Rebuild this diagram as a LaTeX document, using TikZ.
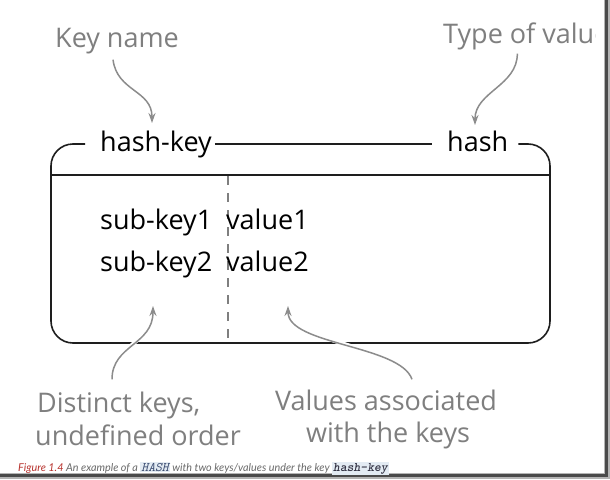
\documentclass[tikz,border=0pt]{standalone}
\usepackage{fontspec}
\setmainfont{Open Sans}
\newfontfamily\capfont{Lato}
\usetikzlibrary{arrows.meta}
\definecolor{labgray}{HTML}{7F7F7F}
\definecolor{arrgray}{HTML}{8C8C8C}
\definecolor{boxblack}{HTML}{1E1E1E}
\definecolor{capred}{HTML}{B8332E}
\definecolor{captext}{HTML}{6A6A6A}
\definecolor{codebg}{HTML}{E3EBF3}
\definecolor{codeblue}{HTML}{3A4B70}
\definecolor{codedark}{HTML}{333344}
\definecolor{framedark}{HTML}{4A4A4A}
\definecolor{framelight}{HTML}{B4B4B4}
\newcommand{\codebox}[3]{{\setlength{\fboxsep}{1pt}\colorbox{codebg}{\ttfamily#2\fontsize{13}{13}\selectfont\color{#1}#3}}}
\tikzset{
  boxtext/.style={font=\fontsize{27}{27}\selectfont, text=black, inner sep=0pt},
  labtext/.style={font=\fontsize{27}{33}\selectfont, text=labgray, inner sep=0pt},
  boxline/.style={draw=boxblack, line width=1.6pt},
  divline/.style={draw=boxblack, line width=1.3pt},
  dashline/.style={draw=labgray, line width=1.2pt, dash pattern=on 9pt off 8pt},
  garrow/.style={draw=arrgray, line width=1.5pt, -{Stealth[length=10pt,width=7pt]},
    preaction={draw=white, line width=4pt, -}},
}
\begin{document}
\begin{tikzpicture}[x=1pt,y=-1pt]
\useasboundingbox (0,0) rectangle (610,479);
\fill[white] (0,0) rectangle (610,479);
% frame of screenshot
\fill[framelight] (604,0) rectangle (610,479);
\fill[framelight] (0,473) rectangle (610,479);
\fill[framedark] (604.5,0) rectangle (607.5,477);
\fill[framedark] (0,474) rectangle (607.5,477);

% top labels of the box
\node[boxtext, anchor=base west] (hk) at (100,151) {hash-key};
\node[boxtext, anchor=base west] (h) at (447,151) {hash};
\coordinate (topy) at (0,144);

% box outline
\draw[boxline, rounded corners=22pt]
  ([xshift=-15pt]hk.west |- topy) -- (51,144) -- (51,343) -- (550,343) -- (550,144)
  -- ([xshift=10pt]h.east |- topy);
\draw[boxline] ([xshift=3pt]hk.east |- topy) -- ([xshift=-15pt]h.west |- topy);
\coordinate (dl) at (51,175);
\coordinate (dr) at (550,175);
\draw[divline] (dl) -- (dr);
\coordinate (dt) at (228,176);
\coordinate (db) at (228,342);
\draw[dashline] (dt) -- (db);

% contents
\node[boxtext, anchor=base west] (sk1) at (100,229) {sub-key1};
\node[boxtext, anchor=base west] (v1) at (226,229) {value1};
\node[boxtext, anchor=base west] (sk2) at (100,271) {sub-key2};
\node[boxtext, anchor=base west] (v2) at (226,271) {value2};

% gray labels
\node[labtext, anchor=base west] (kn) at (55,47) {Key name};
\begin{scope}
\clip (0,0) rectangle (595,479);
\node[labtext, anchor=base west] (tv) at (443,43) {Type of value};
\end{scope}
\node[labtext, anchor=base west] (dk1) at (37,412) {Distinct keys,};
\node[labtext, anchor=base west] (dk2) at (35,445) {undefined order};
\node[labtext, anchor=base] (va1) at (386,410) {Values associated};
\node[labtext, anchor=base] (va2) at (388,442) {with the keys};

% arrow targets
\coordinate (knt) at (152,123);
\coordinate (tvt) at (475,125);
\coordinate (dkt) at (153,306);
\coordinate (vat) at (288,306);

\draw[garrow] ([xshift=-4pt,yshift=-6pt]kn.south) .. controls +(4,32) and (152,90) .. (knt);
\draw[garrow] ([xshift=-9pt,yshift=-4pt]tv.south) .. controls +(0,32) and (475,92) .. (tvt);
\draw[garrow] ([yshift=12pt]dk1.north -| 112,0) .. controls (112,345) and (153,345) .. (dkt);
\draw[garrow] ([xshift=26pt,yshift=10pt]va1.north) .. controls (400,345) and (288,345) .. (vat);

% caption
\node[anchor=base west, inner sep=0pt, font=\capfont\itshape\fontsize{10.8}{12}\selectfont, text=captext] (cap) at (18,471)
  {{\color{capred}Figure 1.4} An example of a \codebox{codeblue}{}{HASH} with two keys/values under the key \codebox{codedark}{\bfseries}{hash-key}};
\end{tikzpicture}
\end{document}
